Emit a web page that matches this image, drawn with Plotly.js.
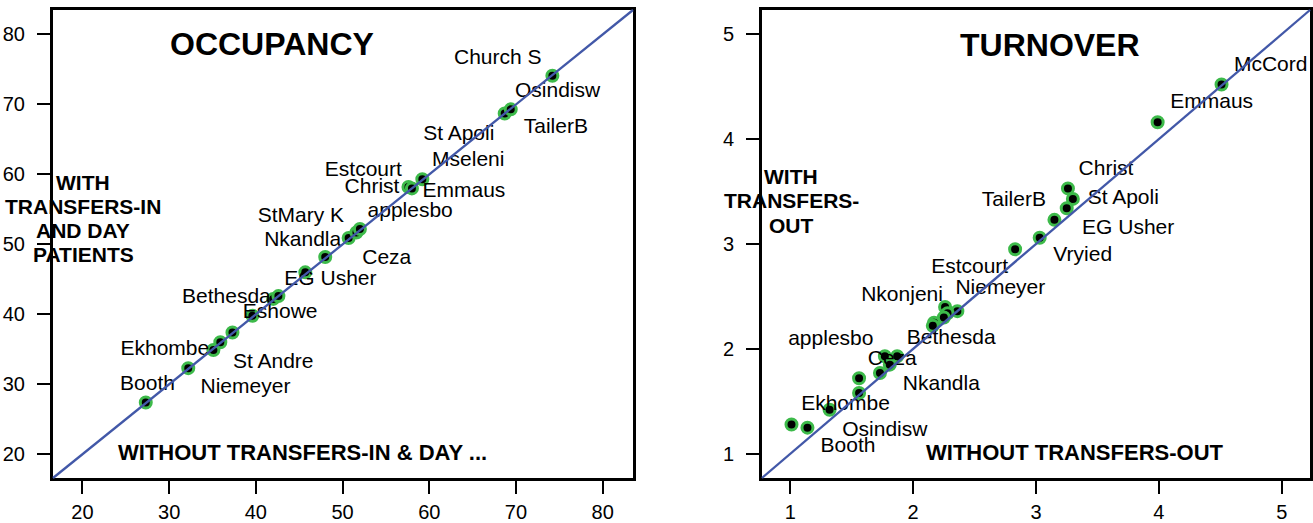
<!DOCTYPE html>
<html>
<head>
<meta charset="utf-8">
<script src="https://cdn.plot.ly/plotly-3.0.1.min.js"></script>
<style>html,body{margin:0;padding:0;background:#fff;}#chart{width:1313px;height:523px;}</style>
</head>
<body>
<div id="chart"></div>
<script>
// ---- OCCUPANCY panel data ----
const occX = [27.3, 32.2, 35.1, 35.9, 37.3, 39.6, 42.0, 42.6, 45.7, 48.0, 50.7, 51.6, 52.0, 57.6, 58.0, 59.2, 68.7, 69.4, 74.2];
const occY = [27.4, 32.3, 34.9, 36.0, 37.4, 39.8, 42.2, 42.6, 46.0, 48.2, 50.9, 51.7, 52.2, 58.2, 58.0, 59.3, 68.7, 69.3, 74.1];
const occNames = ["Church S","Osindisw","TailerB","St Apoli","Mseleni","Estcourt","Christ","Emmaus","applesbo","StMary K","Nkandla","Ceza","EG Usher","Bethesda","Eshowe","Ekhombe","St Andre","Booth","Niemeyer"];
const occLabelX = [67.9, 74.8, 74.6, 63.4, 64.5, 52.4, 53.4, 64.0, 57.8, 45.2, 45.4, 55.1, 48.6, 36.6, 42.8, 29.5, 42.0, 27.5, 38.8];
const occLabelY = [76.6, 71.8, 66.6, 65.7, 61.9, 60.5, 58.1, 57.5, 54.7, 54.0, 50.5, 48.0, 45.0, 42.4, 40.2, 34.9, 33.1, 30.0, 29.5];
const occTicks = [20, 30, 40, 50, 60, 70, 80];
const occRange = [16.6, 83.5];

// ---- TURNOVER panel data ----
const turnX = [4.51, 3.99, 3.26, 3.30, 3.25, 3.15, 3.03, 2.83, 2.26, 2.36, 2.28, 2.25, 2.17, 2.16, 1.77, 1.87, 1.81, 1.73, 1.56, 1.56, 1.32, 1.01, 1.14];
const turnY = [4.52, 4.16, 3.53, 3.43, 3.34, 3.23, 3.06, 2.95, 2.40, 2.36, 2.34, 2.30, 2.25, 2.22, 1.93, 1.93, 1.85, 1.77, 1.72, 1.58, 1.42, 1.28, 1.25];
const turnNames = ["McCord","Emmaus","Christ","TailerB","St Apoli","EG Usher","Vryied","Estcourt","Niemeyer","Nkonjeni","applesbo","Bethesda","Ceza","Nkandla","Ekhombe","Osindisw","Booth"];
const turnLabelX = [4.91, 4.43, 3.57, 2.82, 3.71, 3.75, 3.38, 2.46, 2.71, 1.91, 1.33, 2.31, 1.83, 2.23, 1.45, 1.77, 1.47];
const turnLabelY = [4.70, 4.35, 3.71, 3.41, 3.43, 3.15, 2.89, 2.77, 2.57, 2.51, 2.09, 2.10, 1.90, 1.66, 1.47, 1.22, 1.07];
const turnTicks = [1, 2, 3, 4, 5];
const turnRange = [0.77, 5.23];

// ---- text ----
const titles = ["OCCUPANCY", "TURNOVER"];
const xTitles = ["WITHOUT TRANSFERS-IN & DAY ...", "WITHOUT TRANSFERS-OUT"];
const yTitleLines = [["WITH", "TRANSFERS-IN", "AND DAY", "PATIENTS"], ["WITH", "TRANSFERS-", "OUT"]];

const W = 1313, H = 523;
const FONT = "Arial, 'Liberation Sans', Helvetica, sans-serif";
const GREEN = "#3dba4a";
const BLUE = "#4258a8";

function markerTrace(x, y, xa, ya) {
  return {x: x, y: y, xaxis: xa, yaxis: ya, type: "scatter", mode: "markers",
    marker: {size: 11, color: "#000", line: {color: GREEN, width: 3}},
    hoverinfo: "skip", cliponaxis: false};
}
function textTrace(x, y, t, xa, ya) {
  return {x: x, y: y, text: t, xaxis: xa, yaxis: ya, type: "scatter", mode: "text",
    textposition: "middle center", textfont: {family: FONT, size: 21, color: "#000"},
    hoverinfo: "skip", cliponaxis: false};
}

const data = [
  markerTrace(occX, occY, "x", "y"),
  textTrace(occLabelX, occLabelY, occNames, "x", "y"),
  markerTrace(turnX, turnY, "x2", "y2"),
  textTrace(turnLabelX, turnLabelY, turnNames, "x2", "y2")
];

function axis(range, ticks, domain, anchor, standoff) {
  return {range: range, domain: domain, anchor: anchor, tickvals: ticks, ticktext: ticks.map(String),
    showgrid: false, zeroline: false, showline: true, mirror: true, linecolor: "#000", linewidth: 3,
    ticks: "outside", ticklen: 13, tickwidth: 2, tickcolor: "#000", ticklabelstandoff: standoff,
    tickfont: {family: FONT, size: 20, color: "#000"}, fixedrange: true};
}

const yDom = [1 - 478 / H, 1 - 10 / H];
const layout = {
  width: W, height: H, margin: {l: 0, r: 0, t: 0, b: 0},
  paper_bgcolor: "#fff", plot_bgcolor: "#fff", showlegend: false,
  xaxis: axis(occRange, occTicks, [53 / W, 633 / W], "y", 1),
  yaxis: axis(occRange, occTicks, yDom, "x", 8),
  xaxis2: axis(turnRange, turnTicks, [762 / W, 1310 / W], "y2", 1),
  yaxis2: axis(turnRange, turnTicks, yDom, "x2", 8),
  shapes: [
    {type: "line", xref: "x domain", yref: "y domain", x0: 0, y0: 0, x1: 1, y1: 1, line: {color: BLUE, width: 2.3}, layer: "above"},
    {type: "line", xref: "x2 domain", yref: "y2 domain", x0: 0, y0: 0, x1: 1, y1: 1, line: {color: BLUE, width: 2.3}, layer: "above"}
  ],
  annotations: []
};

function addText(text, px, py, size) {
  layout.annotations.push({text: text, xref: "paper", yref: "paper", x: px / W, y: 1 - py / H,
    xanchor: "center", yanchor: "middle", showarrow: false,
    font: {family: FONT, size: size, color: "#000", weight: "bold"}});
}
addText("<b>" + titles[0] + "</b>", 272, 44, 32);
addText("<b>" + titles[1] + "</b>", 1050, 45, 32);
addText("<b>" + xTitles[0] + "</b>", 302, 452, 22);
addText("<b>" + xTitles[1] + "</b>", 1075, 452, 22);
yTitleLines[0].forEach((t, i) => addText("<b>" + t + "</b>", 83.5, 182 + i * 24.3, 21));
yTitleLines[1].forEach((t, i) => addText("<b>" + t + "</b>", 791, 176 + i * 24.7, 21));

Plotly.newPlot("chart", data, layout, {staticPlot: true, displayModeBar: false});
</script>
</body>
</html>
